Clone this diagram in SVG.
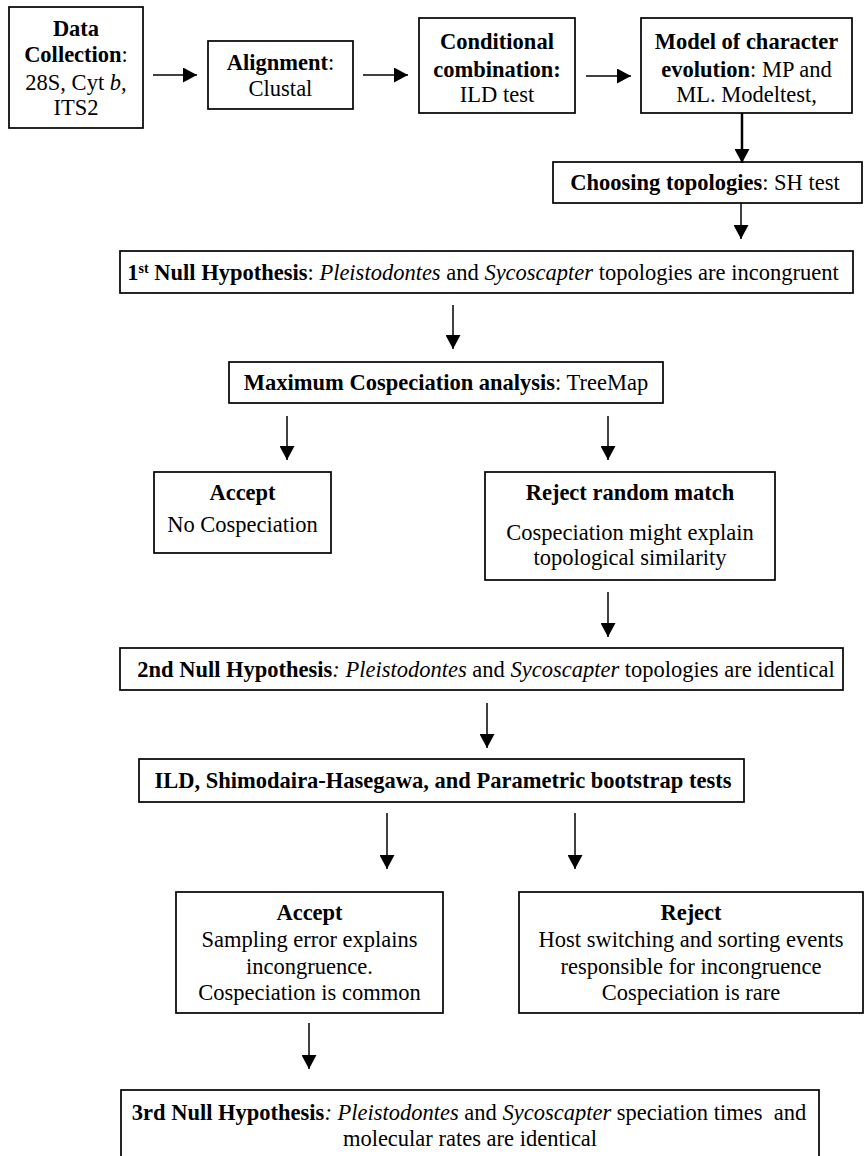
<svg xmlns="http://www.w3.org/2000/svg" width="865" height="1156" viewBox="0 0 865 1156">
<style>
text{font-family:"Liberation Serif","Times New Roman",serif;font-size:22.5px;fill:#000;text-anchor:middle}
.b{font-weight:bold}
.i{font-style:italic}
rect{fill:#fff;stroke:#000;stroke-width:1.7}
.c line{stroke:#000;stroke-width:1.5}
</style>
<defs>
<marker id="ah" markerUnits="userSpaceOnUse" markerWidth="15" markerHeight="15" refX="14" refY="7.5" orient="auto" viewBox="0 0 15 15">
<path d="M0,0 L14,7.5 L0,15 Z" fill="#000"/>
</marker>
</defs>
<rect x="0" y="0" width="865" height="1156" style="stroke:none"/>
<g id="data">
<rect x="9" y="7" width="134" height="121"/>
<text x="76" y="36" class="b">Data</text>
<text x="76" y="62"><tspan class="b">Collection</tspan>:</text>
<text x="76" y="90">28S, Cyt <tspan class="i">b</tspan>,</text>
<text x="76" y="115">ITS2</text>
</g>
<g id="alignment">
<rect x="208" y="41" width="145" height="68"/>
<text x="280.5" y="70"><tspan class="b">Alignment</tspan>:</text>
<text x="280.5" y="96">Clustal</text>
</g>
<g id="conditional">
<rect x="419" y="18" width="156" height="95"/>
<text x="497" y="49" class="b">Conditional</text>
<text x="497" y="77" class="b">combination:</text>
<text x="497" y="102">ILD test</text>
</g>
<g id="model">
<rect x="641" y="18" width="211" height="95"/>
<text x="746.5" y="49" class="b">Model of character</text>
<text x="746.5" y="77"><tspan class="b">evolution</tspan>: MP and</text>
<text x="746.5" y="102">ML. Modeltest,</text>
</g>
<g id="choosing">
<rect x="553" y="162" width="309" height="41"/>
<text x="705" y="190"><tspan class="b">Choosing topologies</tspan>: SH test</text>
</g>
<g id="null1">
<rect x="120" y="251" width="733" height="42"/>
<text x="483" y="280"><tspan class="b">1<tspan font-size="14" baseline-shift="super">st</tspan> Null Hypothesis</tspan>: <tspan class="i">Pleistodontes</tspan> and <tspan class="i">Sycoscapter</tspan> topologies are incongruent</text>
</g>
<g id="maxcosp">
<rect x="229" y="362" width="434" height="41"/>
<text x="446" y="390"><tspan class="b">Maximum Cospeciation analysis</tspan>: TreeMap</text>
</g>
<g id="accept1">
<rect x="154" y="472" width="177" height="81"/>
<text x="242.5" y="500" class="b">Accept</text>
<text x="242.5" y="532">No Cospeciation</text>
</g>
<g id="reject1">
<rect x="485" y="472" width="290" height="108"/>
<text x="630" y="500" class="b">Reject random match</text>
<text x="630" y="540">Cospeciation might explain</text>
<text x="630" y="565">topological similarity</text>
</g>
<g id="null2">
<rect x="120" y="648" width="723" height="42"/>
<text x="486" y="677"><tspan class="b">2nd Null Hypothesis</tspan><tspan class="i">:</tspan> <tspan class="i">Pleistodontes</tspan> and <tspan class="i">Sycoscapter</tspan> topologies are identical</text>
</g>
<g id="tests">
<rect x="139" y="759" width="605" height="43"/>
<text x="443" y="788" class="b">ILD, Shimodaira-Hasegawa, and Parametric bootstrap tests</text>
</g>
<g id="accept2">
<rect x="176" y="892" width="267" height="121"/>
<text x="309.5" y="920" class="b">Accept</text>
<text x="309.5" y="947">Sampling error explains</text>
<text x="309.5" y="974">incongruence.</text>
<text x="309.5" y="1000">Cospeciation is common</text>
</g>
<g id="reject2">
<rect x="519" y="892" width="344" height="121"/>
<text x="691" y="920" class="b">Reject</text>
<text x="691" y="947">Host switching and sorting events</text>
<text x="691" y="974">responsible for incongruence</text>
<text x="691" y="1000">Cospeciation is rare</text>
</g>
<g id="null3">
<rect x="121" y="1090" width="698" height="80"/>
<text x="469" y="1120" xml:space="preserve"><tspan class="b">3rd Null Hypothesis</tspan><tspan class="i">:</tspan> <tspan class="i">Pleistodontes</tspan> and <tspan class="i">Sycoscapter</tspan> speciation times  and</text>
<text x="470" y="1146">molecular rates are identical</text>
</g>
<g id="connectors" class="c">
<line x1="153" y1="75" x2="197" y2="75" marker-end="url(#ah)"/>
<line x1="363" y1="75" x2="408" y2="75" marker-end="url(#ah)"/>
<line x1="586" y1="76" x2="631" y2="76" marker-end="url(#ah)"/>
<line x1="742" y1="113" x2="742" y2="163" marker-end="url(#ah)" style="stroke-width:2.5"/>
<line x1="741" y1="203" x2="741" y2="239" marker-end="url(#ah)"/>
<line x1="453" y1="305" x2="453" y2="349" marker-end="url(#ah)"/>
<line x1="287" y1="416" x2="287" y2="460" marker-end="url(#ah)"/>
<line x1="608" y1="416" x2="608" y2="460" marker-end="url(#ah)"/>
<line x1="608" y1="592" x2="608" y2="637" marker-end="url(#ah)"/>
<line x1="487" y1="703" x2="487" y2="748" marker-end="url(#ah)"/>
<line x1="387" y1="813" x2="387" y2="869" marker-end="url(#ah)"/>
<line x1="575" y1="813" x2="575" y2="869" marker-end="url(#ah)"/>
<line x1="309" y1="1023" x2="309" y2="1069" marker-end="url(#ah)"/>
</g>
</svg>
